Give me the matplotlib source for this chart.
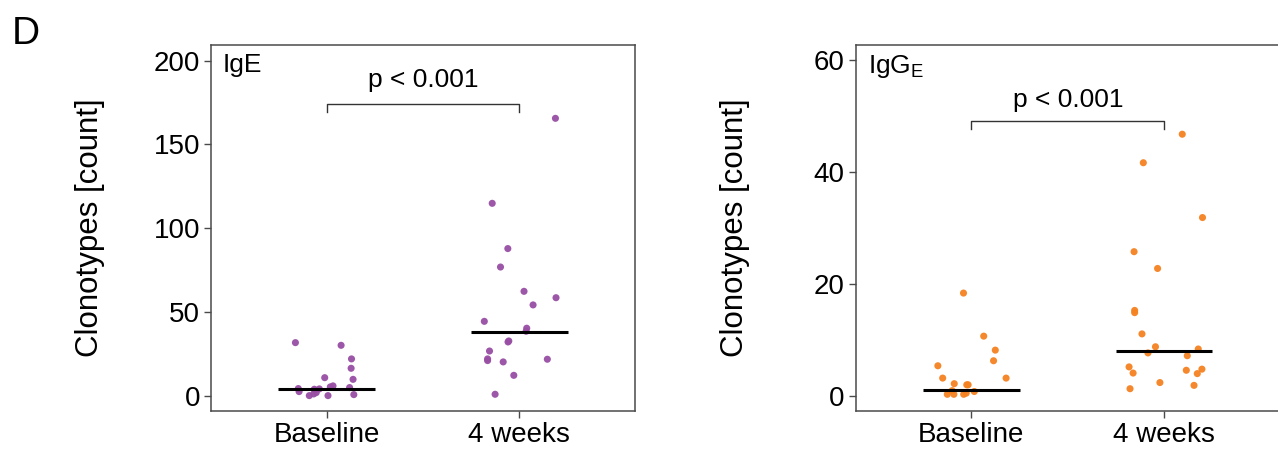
import matplotlib
matplotlib.use('Agg')
import matplotlib.pyplot as plt

plt.rcParams['font.family'] = ['Liberation Sans', 'DejaVu Sans']
plt.rcParams['mathtext.fontset'] = 'custom'
plt.rcParams['mathtext.rm'] = 'Liberation Sans'

groups = ['Baseline', '4 weeks']

# IgE panel: jitter offsets from the group position, and counts
ige_base_dx = [-0.162, 0.075, 0.129, 0.127, -0.010, 0.137, 0.033, -0.147, -0.143,
               -0.064, -0.038, -0.054, -0.067, -0.090, 0.007, 0.119, 0.141, 0.019]
ige_base_y = [31.8, 30.2, 22.1, 16.5, 10.9, 9.9, 6.0, 4.4, 2.6,
              4.0, 4.2, 2.0, 1.2, 0.2, 0.2, 5.0, 0.8, 5.4]
ige_wk4_dx = [0.187, -0.141, -0.060, -0.098, 0.024, 0.190, 0.071, -0.182, 0.038, 0.035,
              -0.055, -0.059, -0.155, -0.165, -0.165, -0.084, 0.145, -0.029, -0.126]
ige_wk4_y = [165.6, 114.9, 87.9, 76.9, 62.4, 58.6, 54.3, 44.5, 40.4, 38.6,
             32.8, 32.2, 26.8, 22.1, 21.1, 20.3, 21.9, 12.3, 1.0]
ige_medians = [4.0, 38.0]

# IgG_E panel
igg_base_dx = [-0.041, 0.064, 0.124, 0.115, -0.174, -0.149, 0.180, -0.089,
               -0.024, -0.017, -0.125, -0.091, -0.040, -0.027, 0.015, -0.100]
igg_base_y = [18.4, 10.7, 8.2, 6.3, 5.4, 3.2, 3.2, 2.2,
              2.0, 2.0, 0.3, 0.3, 0.3, 0.5, 0.8, 0.95]
igg_wk4_dx = [0.094, -0.108, 0.199, -0.156, -0.034, -0.153, -0.153, -0.115, -0.045, -0.084,
              0.177, 0.120, -0.182, -0.161, 0.115, 0.196, 0.172, -0.022, 0.155, -0.177]
igg_wk4_y = [46.8, 41.7, 31.9, 25.8, 22.8, 15.3, 14.9, 11.1, 8.8, 7.7,
             8.4, 7.2, 5.2, 4.1, 4.6, 4.8, 4.0, 2.4, 1.9, 1.3]
igg_medians = [1.0, 8.0]

panels = [
    dict(name='IgE', color='#984ea3', base=(ige_base_dx, ige_base_y), wk4=(ige_wk4_dx, ige_wk4_y),
         medians=ige_medians, ylim=(-8.8, 209.5), yticks=[0, 50, 100, 150, 200],
         bracket=(174.1, 169.4), ptext_y=184.4),
    dict(name=r'IgG$_\mathregular{E}$', color='#f58220', base=(igg_base_dx, igg_base_y), wk4=(igg_wk4_dx, igg_wk4_y),
         medians=igg_medians, ylim=(-2.63, 62.8), yticks=[0, 20, 40, 60],
         bracket=(49.2, 47.8), ptext_y=51.6),
]

fig = plt.figure(figsize=(12.78, 4.49), dpi=100)
axes = [fig.add_axes([0.1651, 0.0853, 0.3318, 0.8151]),
        fig.add_axes([0.6696, 0.0853, 0.3318, 0.8151])]

spine_col = '#4a4a4a'
for ax, p in zip(axes, panels):
    for i, (dx, ys) in enumerate([p['base'], p['wk4']]):
        xs = [i + 1 + d for d in dx]
        ax.scatter(xs, ys, s=26, color=p['color'], edgecolors='none', alpha=0.95, zorder=3)
        ax.plot([i + 1 - 0.25, i + 1 + 0.25], [p['medians'][i]] * 2, color='black', lw=2.2,
                solid_capstyle='butt', zorder=4)

    top, low = p['bracket']
    ax.plot([1, 1, 2, 2], [low, top, top, low], color='#333333', lw=1.0)
    ax.text(1.5, p['ptext_y'], 'p < 0.001', ha='center', va='baseline', fontsize=19)
    ax.text(0.028, 0.978, p['name'], transform=ax.transAxes, ha='left', va='top', fontsize=19)

    ax.set_xlim(0.4, 2.6)
    ax.set_ylim(*p['ylim'])
    ax.set_xticks([1, 2])
    ax.set_xticklabels(groups)
    ax.set_yticks(p['yticks'])
    ax.tick_params(axis='both', labelsize=20, length=5, width=1.0, color=spine_col, pad=3)
    for s in ax.spines.values():
        s.set_color(spine_col)
        s.set_linewidth(1.1)
    ax.set_ylabel('Clonotypes [count]', fontsize=22.5)
    ax.yaxis.set_label_coords(-0.25, 0.5)

fig.text(0.009, 0.965, 'D', fontsize=28, ha='left', va='top')

fig.savefig('out.png', dpi=100)
